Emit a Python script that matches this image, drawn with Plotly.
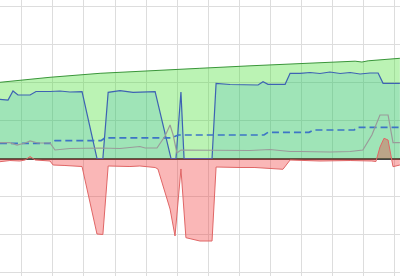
import plotly.graph_objects as go

# Green envelope series
green_x = [-7.0, 9.1, 25.2, 41.3, 57.3, 73.4, 89.5, 107.2, 109.4, 111.4, 121.6]
green_y = [2.005, 2.137, 2.242, 2.316, 2.374, 2.439, 2.505, 2.561, 2.539, 2.571, 2.637]

# Blue solid series
blue_x = [-7.0, -4.4, -2.8, -1.2, 2.7, 4.6, 9.1, 12.3, 15.5, 19.4, 24.2, 26.1, 27.8, 31.6,
          35.8, 42.9, 48.0, 49.6, 51.2, 52.2, 61.2, 62.5, 67.0, 71.8, 76.0, 77.6, 79.2,
          84.7, 86.3, 89.5, 92.7, 95.9, 99.1, 102.4, 105.6, 108.8, 112.0, 114.6, 116.2, 121.6]
blue_y = [1.558, 1.539, 1.776, 1.671, 1.671, 1.763, 1.763, 1.776, 1.750, 1.758, 0.0, 0.0, 1.742, 1.784,
          1.742, 1.758, 0.0, 0.0, 1.750, 0.0, 0.0, 1.974, 1.947, 1.947, 1.934, 2.021, 1.953,
          1.953, 2.242, 2.242, 2.263, 2.237, 2.276, 2.237, 2.263, 2.224, 2.250, 2.250, 1.979, 1.979]

# Blue dashed series
dash_x = [-7.0, 9.1, 10.7, 25.5, 26.8, 48.3, 50.3, 77.9, 79.2, 92.4, 94.0, 106.9, 108.1, 121.6]
dash_y = [0.40, 0.40, 0.468, 0.468, 0.545, 0.545, 0.618, 0.618, 0.689, 0.689, 0.75, 0.75, 0.821, 0.821]

# Gray series
gray_x = [-7.0, -3.8, -1.5, 1.1, 2.7, 5.2, 9.1, 10.7, 15.5, 22.0, 25.2, 31.6, 38.0, 39.7, 43.5,
          46.1, 47.7, 48.7, 49.9, 51.2, 54.1, 57.3, 67.0, 73.4, 79.8, 86.3, 89.5, 99.1, 105.6,
          109.7, 112.6, 115.2, 117.8, 119.4, 121.6]
gray_y = [0.416, 0.416, 0.355, 0.408, 0.461, 0.408, 0.408, 0.224, 0.263, 0.276, 0.276, 0.263, 0.316, 0.276, 0.276,
          0.592, 0.882, 0.618, 0.145, 0.224, 0.224, 0.211, 0.211, 0.211, 0.237, 0.184, 0.184, 0.171, 0.184,
          0.224, 0.618, 1.145, 1.145, 0.416, 0.416]

# Red series
red_x = [-7.0, -3.8, -0.6, 1.1, 2.7, 4.3, 9.1, 10.1, 13.9, 19.4, 24.2, 26.1, 27.8, 34.8, 38.0,
         42.9, 43.8, 47.7, 49.3, 51.2, 52.8, 57.3, 61.2, 62.5, 70.2, 75.0, 84.0, 86.3, 95.9,
         105.6, 112.6, 113.9, 115.2, 116.5, 117.8, 119.4, 121.6]
red_y = [-0.084, -0.053, -0.066, -0.039, 0.053, -0.039, -0.066, -0.171, -0.184, -0.211, -1.987, -2.0, -0.197, -0.211, -0.197,
         -0.237, -0.276, -1.329, -2.039, -0.276, -2.084, -2.171, -2.171, -0.224, -0.237, -0.237, -0.284, -0.04, -0.066,
         -0.053, -0.066, -0.08, 0.3, 0.532, 0.487, -0.216, -0.171]

fig = go.Figure()
fig.add_trace(go.Scatter(x=green_x, y=green_y, mode="lines", fill="tozeroy",
                         line=dict(color="#3a963a", width=1), fillcolor="rgba(60,220,40,0.35)"))
fig.add_trace(go.Scatter(x=blue_x, y=blue_y, mode="lines", fill="tozeroy",
                         line=dict(color="#3d62b3", width=1.2), fillcolor="rgba(0,150,200,0.15)"))
fig.add_trace(go.Scatter(x=dash_x, y=dash_y, mode="lines",
                         line=dict(color="#3d74c6", width=1.7, dash="7px,4px")))
fig.add_trace(go.Scatter(x=gray_x, y=gray_y, mode="lines",
                         line=dict(color="#9a9a9a", width=1.2)))
fig.add_trace(go.Scatter(x=red_x, y=red_y, mode="lines", fill="tozeroy",
                         line=dict(color="#e06666", width=1), fillcolor="rgba(240,50,50,0.35)"))

fig.update_layout(
    width=400, height=276, margin=dict(l=0, r=0, t=0, b=0),
    plot_bgcolor="white", paper_bgcolor="white", showlegend=False,
    xaxis=dict(range=[-6.98, 121.64], dtick=10, tick0=0, showticklabels=False,
               showgrid=True, gridcolor="#dddddd", gridwidth=1, zeroline=False, ticks=""),
    yaxis=dict(range=[-3.092, 4.171], dtick=1, tick0=0, showticklabels=False,
               showgrid=True, gridcolor="#dddddd", gridwidth=1,
               zeroline=True, zerolinecolor="#444444", zerolinewidth=1.6, ticks=""),
)
fig.write_html("out.html")
